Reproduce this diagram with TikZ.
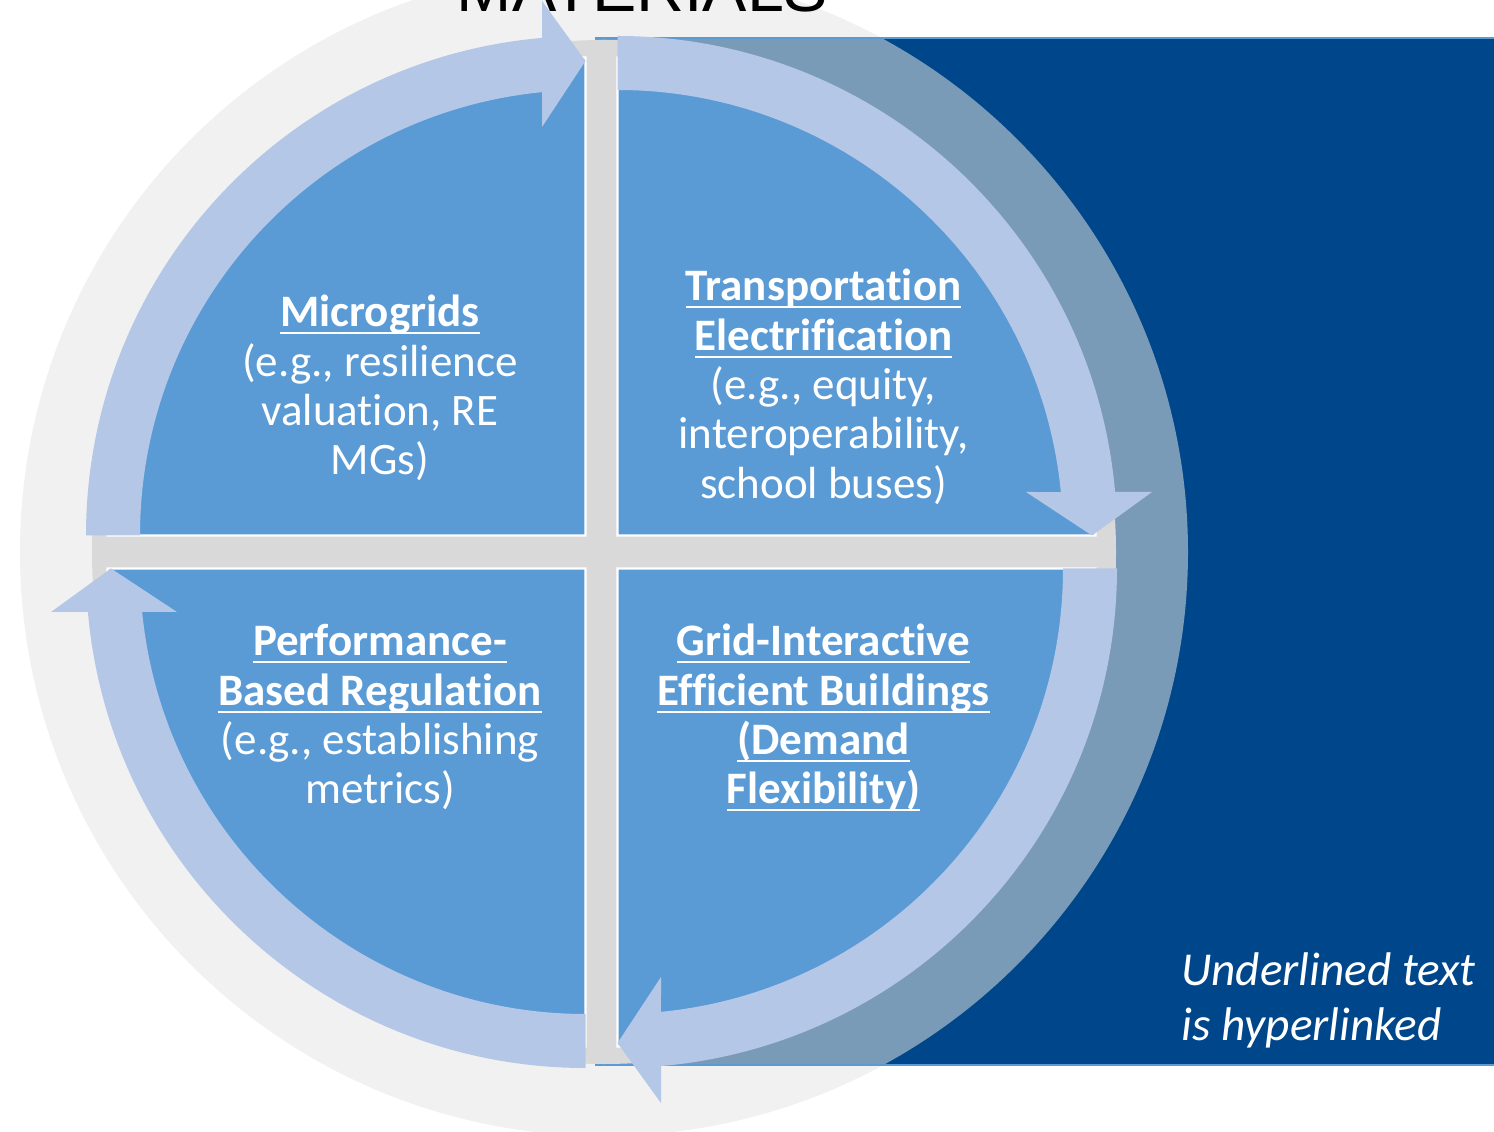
\documentclass[tikz,border=0pt]{standalone}
\usepackage{fontspec}
\setmainfont{Carlito}[Ligatures={NoCommon}]
\newfontfamily\titlefont{Liberation Sans}
\usetikzlibrary{calc}
\definecolor{ltgray}{HTML}{F1F1F1}
\definecolor{ovlgray}{HTML}{7A9BB8}
\definecolor{dkblue}{HTML}{00468A}
\definecolor{rimblue}{HTML}{5B9BD5}
\definecolor{discgray}{HTML}{D9D9D9}
\definecolor{quadblue}{HTML}{5B9BD5}
\definecolor{bandblue}{HTML}{B4C7E7}
\newcommand\ulx[1]{\setbox0\hbox{#1}\rlap{\rule[-3.75pt]{\wd0}{1pt}}\box0}
\newcommand\cycarrow[2]{%
  \begin{scope}[shift={#1},rotate=#2]
    \fill[arrowband] (90:499.5) arc[start angle=90,end angle=4.996,radius=499.5]
      -- (534.5,43.5) -- (474.5,0) -- (408.5,43.5) -- (5.603:445.5)
      arc[start angle=5.603,end angle=90,radius=445.5] -- cycle;
  \end{scope}}
\begin{document}
\begin{tikzpicture}[x=0.5pt,y=0.5pt,
  arrowband/.style={fill=bandblue},
  quadrant/.style={fill=quadblue,draw=white,line width=1.2pt,line join=miter},
  qtext/.style={text=white,font=\fontsize{22.5}{24.65}\selectfont,anchor=base,inner sep=0pt},
  notetext/.style={text=white,font=\fontsize{23.6}{28}\selectfont\itshape,anchor=base west,inner sep=0pt},
  titletext/.style={text=black,font=\titlefont\fontsize{33.2}{38}\selectfont,anchor=base,inner sep=0pt}]
\useasboundingbox (0,0) rectangle (1494,1131);
\clip (0,0) rectangle (1494,1131);
\fill[white] (0,0) rectangle (1494,1131);
% big light circle
\fill[ltgray] (604,579) circle[radius=584];
% dark blue panel
\fill[dkblue] (595,66) rectangle (1494,1093);
\begin{scope}
  \clip (595,66) rectangle (1494,1093);
  \fill[ovlgray] (604,579) circle[radius=584];
\end{scope}
\draw[rimblue,line width=1pt] (595,1093) -- (1494,1093);
\draw[rimblue,line width=1pt] (595,66) -- (1494,66);
% title (cut off at the top edge, as in the source)
\node[titletext] (title) at (642.5,1119) {MATERIALS};
% gray disc
\fill[discgray] (604,579) circle[radius=512];
% quadrants
\filldraw[quadrant] (585.5,595.5) -- ++(180:478) arc[start angle=180,end angle=90,radius=478] -- cycle;
\filldraw[quadrant] (617.5,595.5) -- ++(90:478) arc[start angle=90,end angle=0,radius=478] -- cycle;
\filldraw[quadrant] (617.5,562.5) -- ++(0:478) arc[start angle=0,end angle=-90,radius=478] -- cycle;
\filldraw[quadrant] (585.5,562.5) -- ++(-90:478) arc[start angle=-90,end angle=-180,radius=478] -- cycle;
% circular arrows
\cycarrow{(585.5,595.5)}{90}
\cycarrow{(617.5,595.5)}{0}
\cycarrow{(617.5,562.5)}{-90}
\cycarrow{(585.5,562.5)}{180}
% texts: top left
\node[qtext] (tl1) at (380,804) {\bfseries\ulx{Microgrids}};
\node[qtext] (tl2) at (380,754.7) {(e.g., resilience};
\node[qtext] (tl3) at (380,705.4) {valuation, RE};
\node[qtext] (tl4) at (380,656.1) {MGs)};
% top right
\node[qtext] (tr1) at (823.5,830) {\bfseries\ulx{Transportation}};
\node[qtext] (tr2) at (823.5,780.7) {\bfseries\ulx{Electrification}};
\node[qtext] (tr3) at (823.5,731.4) {(e.g., equity,};
\node[qtext] (tr4) at (823.5,682.1) {interoperability,};
\node[qtext] (tr5) at (823.5,632.8) {school buses)};
% bottom left
\node[qtext] (bl1) at (380,475) {\bfseries\ulx{Performance-}};
\node[qtext] (bl2) at (380,425.7) {\bfseries\ulx{Based Regulation}};
\node[qtext] (bl3) at (380,376.4) {(e.g., establishing};
\node[qtext] (bl4) at (380,327.1) {metrics)};
% bottom right
\node[qtext] (br1) at (823.5,475) {\bfseries\ulx{Grid-Interactive}};
\node[qtext] (br2) at (823.5,425.7) {\bfseries\ulx{Efficient Buildings}};
\node[qtext] (br3) at (823.5,376.4) {\bfseries\ulx{(Demand}};
\node[qtext] (br4) at (823.5,327.1) {\bfseries\ulx{Flexibility)}};
% note
\node[notetext] (note1) at (1181,146) {Underlined text};
\node[notetext] (note2) at (1181,91) {is hyperlinked};
\end{tikzpicture}
\end{document}
